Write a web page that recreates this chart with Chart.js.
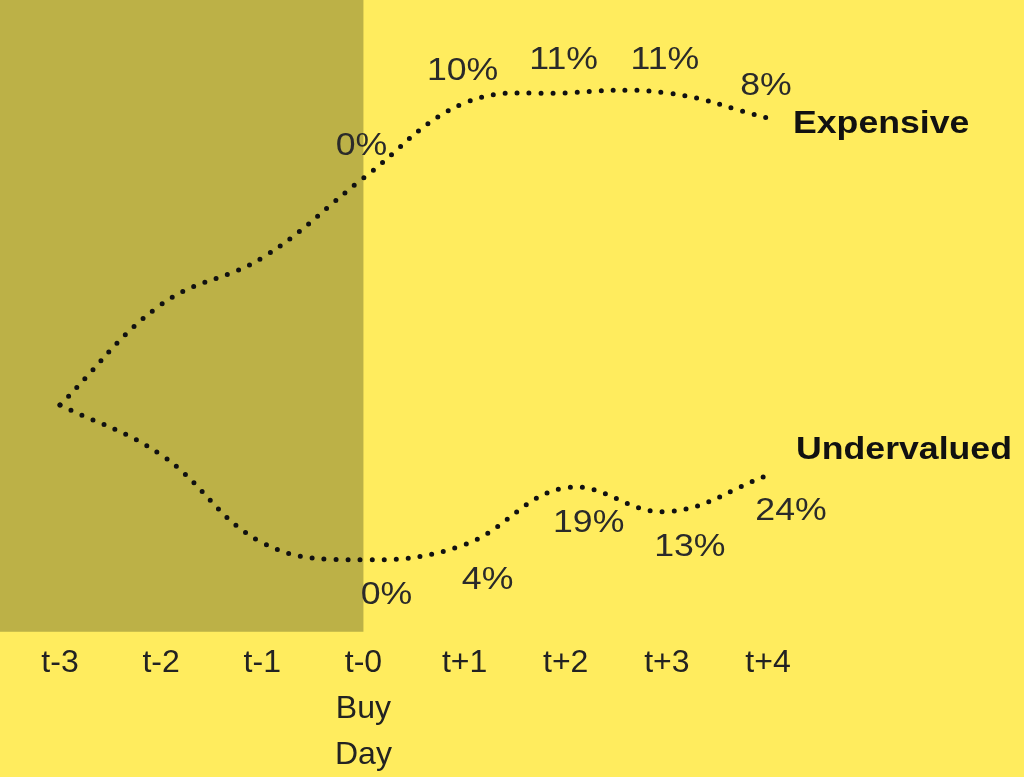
<!DOCTYPE html>
<html>
<head>
<meta charset="utf-8">
<script src="https://cdn.jsdelivr.net/npm/chart.js@4/dist/chart.umd.min.js"></script>
<style>
  html, body { margin: 0; padding: 0; background: #ffec5e; }
  #wrap { width: 1024px; height: 777px; }
</style>
</head>
<body>
<div id="wrap"><canvas id="myChart" width="1024" height="777"></canvas></div>
<script>
// x axis
var days = ['t-3', 't-2', 't-1', ['t-0', 'Buy', 'Day'], 't+1', 't+2', 't+3', 't+4'];
// schematic heights of the two paths
var expensive = [35.9, 51.8, 59.2, 71.8, 83.7, 85.3, 85.3, 81.3];
var undervalued = [35.9, 28.0, 14.1, 11.4, 13.8, 22.8, 19.0, 24.8];
// point labels
var expensiveLabels = [null, null, null, '0%', '10%', '11%', '11%', '8%'];
var undervaluedLabels = [null, null, null, '0%', '4%', '19%', '13%', '24%'];
var buyDayIndex = 3;

var FONT = '"Liberation Sans", Arial, Helvetica, sans-serif';
var STRETCH = 1.15;   // the text in the picture is a bit wide

// shaded "before buy day" area
var shadePlugin = {
    id: 'shade',
    beforeDatasetsDraw: function (chart) {
        var c = chart.ctx;
        var x = chart.scales.x.getPixelForValue(buyDayIndex);
        c.save();
        c.fillStyle = '#bcb147';
        c.fillRect(0, 0, x, chart.chartArea.bottom);
        c.restore();
    }
};

function wideText(c, txt, x, y) {
    c.save();
    c.translate(x, y);
    c.scale(STRETCH, 1);
    c.fillText(txt, 0, 0);
    c.restore();
}

// percentages and series names
var labelPlugin = {
    id: 'labels',
    afterDatasetsDraw: function (chart) {
        var c = chart.ctx;
        c.save();
        chart.data.datasets.forEach(function (ds, i) {
            var meta = chart.getDatasetMeta(i);
            c.font = '31px ' + FONT;
            c.fillStyle = '#2a2a2a';
            c.textAlign = 'center';
            c.textBaseline = 'middle';
            ds.pctLabels.forEach(function (txt, j) {
                if (!txt) return;
                var p = meta.data[j];
                wideText(c, txt, p.x + ds.labelDx, p.y + ds.labelDy);
            });
            var last = meta.data[meta.data.length - 1];
            c.font = 'bold 31px ' + FONT;
            c.fillStyle = '#111';
            c.textAlign = 'left';
            wideText(c, ds.label, last.x + ds.nameDx, last.y + ds.nameDy);
        });
        c.restore();
    }
};

var ctx = document.getElementById('myChart').getContext('2d');
var myChart = new Chart(ctx, {
    type: 'line',
    data: {
        labels: days,
        datasets: [{
            label: 'Expensive',
            data: expensive,
            pctLabels: expensiveLabels,
            labelDx: -2, labelDy: -32,
            nameDx: 25, nameDy: 6,
            borderColor: '#111',
            borderWidth: 5,
            borderDash: [0, 12],
            borderCapStyle: 'round',
            tension: 0.4,
            pointRadius: 0,
            clip: false
        }, {
            label: 'Undervalued',
            data: undervalued,
            pctLabels: undervaluedLabels,
            labelDx: 23, labelDy: 36,
            nameDx: 28, nameDy: -25,
            borderColor: '#111',
            borderWidth: 5,
            borderDash: [0, 12],
            borderCapStyle: 'round',
            tension: 0.4,
            pointRadius: 0,
            clip: false
        }]
    },
    options: {
        responsive: false,
        animation: false,
        layout: {
            padding: { left: 60, right: 256, top: 0, bottom: -9 }
        },
        scales: {
            x: {
                offset: false,
                border: { display: false },
                grid: { display: false, drawTicks: false },
                ticks: {
                    color: '#222',
                    padding: 8,
                    maxRotation: 0,
                    autoSkip: false,
                    font: { family: FONT, size: 32, lineHeight: 1.44 }
                }
            },
            y: {
                display: false,
                min: 0,
                max: 100
            }
        },
        plugins: {
            legend: { display: false },
            tooltip: { enabled: false }
        }
    },
    plugins: [shadePlugin, labelPlugin]
});
</script>
</body>
</html>
